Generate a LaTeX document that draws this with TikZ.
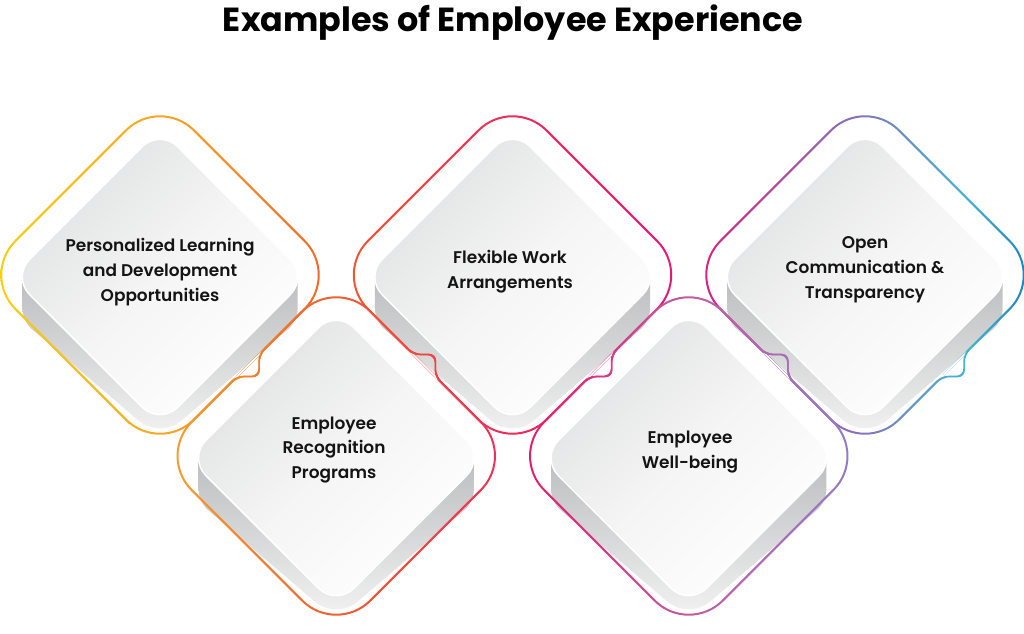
\documentclass[tikz,border=0pt]{standalone}
\usepackage{fontspec}
\setmainfont{Poppins}
\newfontfamily\labelfont{Poppins SemiBold}
\usepackage{xcolor}
\usepackage{tikz}
\usetikzlibrary{calc,positioning}

\definecolor{faceGray}{HTML}{E0E1E2}
\definecolor{faceMid}{HTML}{F5F5F5}
\definecolor{sideTop}{HTML}{BCBEBF}
\definecolor{sideBot}{HTML}{F3F3F3}
\definecolor{oneA}{HTML}{F8D30F}
\definecolor{oneB}{HTML}{F6A623}
\definecolor{oneC}{HTML}{F06226}
\definecolor{twoA}{HTML}{F3A52A}
\definecolor{twoB}{HTML}{F15E30}
\definecolor{twoC}{HTML}{EC2B5C}
\definecolor{threeA}{HTML}{F15C2D}
\definecolor{threeB}{HTML}{EC2A5A}
\definecolor{threeC}{HTML}{E3167F}
\definecolor{fourA}{HTML}{E5186A}
\definecolor{fourB}{HTML}{C45AA2}
\definecolor{fourC}{HTML}{8C80CC}
\definecolor{fiveA}{HTML}{E0187E}
\definecolor{fiveB}{HTML}{8D6CB6}
\definecolor{fiveC}{HTML}{41B4D2}
\definecolor{fiveD}{HTML}{1473B7}
\pgfdeclarehorizontalshading{fiveRing}{100bp}{color(0bp)=(fiveA); color(25bp)=(fiveA); color(47bp)=(fiveB); color(64bp)=(fiveC); color(75bp)=(fiveD); color(100bp)=(fiveD)}

\tikzstyle{facebox} = [top color=faceGray, bottom color=white, middle color=faceMid,
    shading angle=45, draw=white, line width=1.5bp]
\tikzstyle{sidebox} = [top color=sideTop, bottom color=sideBot]
\tikzstyle{itemtext} = [font=\labelfont\fontsize{17}{25}\selectfont, align=center, text=black!92]
\tikzstyle{titletext} = [font=\bfseries\fontsize{33.5}{40}\selectfont, text=black]

% outline of an upper tile: centre, scale, left/right step (0 or 1), corner radius
\newcommand{\topline}[6]{%
  [rounded corners=#6] ({#1},{#2-#3*178.6})
  -- ({#1+#3*178.6},{#2})
  -- ({#1+#3*111.1},{#2+#3*67.5}) [rounded corners=7bp]
  -- ({#1+#3*99.1},{#2+#3*79.5})
  -- ({#1+#3*(88.1+11*#5)},{#2+#3*(90.5+11*#5)})
  -- ({#1+#3*77.1},{#2+#3*101.5})
  -- ({#1+#3*65.1},{#2+#3*113.5}) [rounded corners=#6]
  -- ({#1},{#2+#3*178.6})
  -- ({#1-#3*65.1},{#2+#3*113.5}) [rounded corners=7bp]
  -- ({#1-#3*77.1},{#2+#3*101.5})
  -- ({#1+#3*(-88.1+11*#4)},{#2+#3*(90.5-11*#4)})
  -- ({#1-#3*99.1},{#2+#3*79.5})
  -- ({#1-#3*111.1},{#2+#3*67.5}) [rounded corners=#6]
  -- ({#1-#3*178.6},{#2})
  -- cycle}
% outline of a lower tile: centre, scale, corner radius
\newcommand{\botline}[4]{%
  [rounded corners=#4] ({#1},{#2-#3*178.6})
  -- ({#1+#3*65.1},{#2-#3*113.5}) [rounded corners=7bp]
  -- ({#1+#3*77.1},{#2-#3*101.5})
  -- ({#1+#3*99.1},{#2-#3*101.5})
  -- ({#1+#3*99.1},{#2-#3*79.5})
  -- ({#1+#3*111.1},{#2-#3*67.5}) [rounded corners=#4]
  -- ({#1+#3*178.6},{#2})
  -- ({#1},{#2+#3*178.6})
  -- ({#1-#3*178.6},{#2})
  -- ({#1-#3*111.1},{#2-#3*67.5}) [rounded corners=7bp]
  -- ({#1-#3*99.1},{#2-#3*79.5})
  -- ({#1-#3*77.1},{#2-#3*79.5})
  -- ({#1-#3*77.1},{#2-#3*101.5})
  -- ({#1-#3*65.1},{#2-#3*113.5}) [rounded corners=#4]
  -- cycle}

\begin{document}
\begin{tikzpicture}[x=1bp,y=-1bp]
\useasboundingbox (0,0) rectangle (1024,634);

% raised tiles
\foreach \cx/\cy in {160/277, 336.25/458, 512.5/277, 688.75/458, 865/277}{
  \shade[sidebox] (\cx-137.6,\cy) -- (\cx+137.6,\cy) [rounded corners=12bp]
    -- (\cx+137.6,\cy+44) [rounded corners=28bp] -- (\cx,\cy+162)
    [rounded corners=12bp] -- (\cx-137.6,\cy+44) [sharp corners] -- cycle;
  \shadedraw[facebox] [rounded corners=25bp] (\cx,\cy-148) -- (\cx+148,\cy)
    -- (\cx,\cy+148) -- (\cx-148,\cy) -- cycle;
}

% coloured outlines
\foreach \cx/\fl/\ca/\cm/\cb in {160/0/oneA/oneB/oneC, 512.5/1/threeA/threeB/threeC}{
  \shade[even odd rule, left color=\ca, right color=\cb, middle color=\cm]
    \topline{\cx}{275}{1.0079}{\fl}{1}{49bp} \topline{\cx}{275}{0.9921}{\fl}{1}{47bp};
}
\shade[even odd rule, shading=fiveRing]
  \topline{865}{275}{1.0079}{1}{1}{49bp} \topline{865}{275}{0.9921}{1}{1}{47bp};
\foreach \cx/\ca/\cm/\cb in {336.25/twoA/twoB/twoC, 688.75/fourA/fourB/fourC}{
  \shade[even odd rule, left color=\ca, right color=\cb, middle color=\cm]
    \botline{\cx}{456}{1.0079}{49bp} \botline{\cx}{456}{0.9921}{47bp};
}

\node[titletext, anchor=base] (title) at (513,32) {Examples of Employee Experience};

\node[itemtext] (learn) at (160,272) {Personalized Learning\\and Development\\Opportunities};
\node[itemtext] (recog) at (334,450) {Employee\\Recognition\\Programs};
\node[itemtext] (flex) at (510,272) {Flexible Work\\Arrangements};
\node[itemtext] (wellb) at (690,452) {Employee\\Well-being};
\node[itemtext] (open) at (865,270) {Open\\Communication \&\\Transparency};
\end{tikzpicture}
\end{document}
